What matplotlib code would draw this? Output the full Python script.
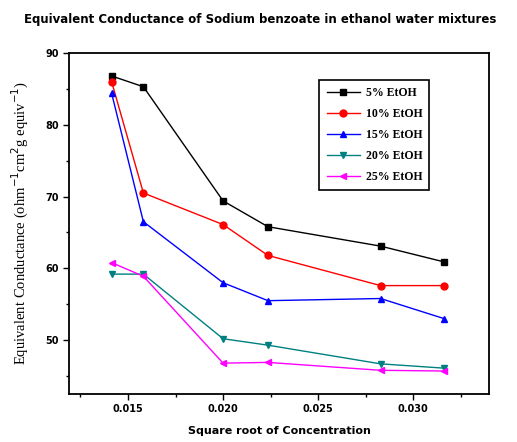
import numpy as np
import matplotlib.pyplot as plt

# 数据 (square root of concentration)
sqrt_c = [0.01414, 0.01581, 0.02000, 0.02236, 0.02828, 0.03162]

etoh_5 = [86.8, 85.3, 69.4, 65.8, 63.1, 60.9]
etoh_10 = [86.0, 70.5, 66.1, 61.8, 57.6, 57.6]
etoh_15 = [84.4, 66.5, 58.0, 55.5, 55.8, 53.0]
etoh_20 = [59.2, 59.2, 50.2, 49.3, 46.7, 46.1]
etoh_25 = [60.8, 58.9, 46.8, 46.9, 45.8, 45.7]

labels = ['5% EtOH', '10% EtOH', '15% EtOH', '20% EtOH', '25% EtOH']
colors = ['black', 'red', 'blue', '#008080', 'magenta']
markers = ['s', 'o', '^', 'v', '<']

fig = plt.figure(figsize=(5.17, 4.42), dpi=100)
ax = fig.add_axes([69/517, 1 - 394/442, 420/517, 341/442])

series = [etoh_5, etoh_10, etoh_15, etoh_20, etoh_25]
for ys, lab, col, mk in zip(series, labels, colors, markers):
    ax.plot(sqrt_c, ys, color=col, marker=mk, markersize=5, linewidth=1.0, label=lab)

ax.set_xlim(0.0119, 0.03398)
ax.set_ylim(42.5, 90)
ax.set_xticks([0.015, 0.020, 0.025, 0.030])
ax.set_xticklabels(['0.015', '0.020', '0.025', '0.030'])
ax.set_xticks(np.arange(0.0125, 0.034, 0.005), minor=True)
ax.set_yticks([50, 60, 70, 80, 90])
ax.set_yticks([45, 55, 65, 75, 85], minor=True)
ax.tick_params(which='major', direction='out', length=4, width=1, labelsize=7)
ax.tick_params(which='minor', direction='out', length=2.5, width=1)
for lbl in ax.get_xticklabels() + ax.get_yticklabels():
    lbl.set_fontweight('bold')
for sp in ax.spines.values():
    sp.set_linewidth(1.3)

ax.set_xlabel('Square root of Concentration', fontsize=8, fontweight='bold', labelpad=8)
ax.set_ylabel('Equivalent Conductance (ohm$^{-1}$cm$^{2}$g equiv$^{-1}$)',
              fontsize=10.5, family='Liberation Serif', labelpad=10)

leg = ax.legend(loc='upper right', bbox_to_anchor=(0.872, 0.937),
                prop={'family': 'Liberation Serif', 'size': 8.5, 'weight': 'bold'},
                fancybox=False, edgecolor='black', framealpha=1,
                handlelength=2.8, labelspacing=0.75, borderpad=0.6, handletextpad=0.5)
leg.get_frame().set_linewidth(1.2)

fig.text(260/517, 1 - 20/442, 'Equivalent Conductance of Sodium benzoate in ethanol water mixtures',
         ha='center', va='center', fontsize=8.5, fontweight='bold')

fig.savefig('out.png', dpi=100)
